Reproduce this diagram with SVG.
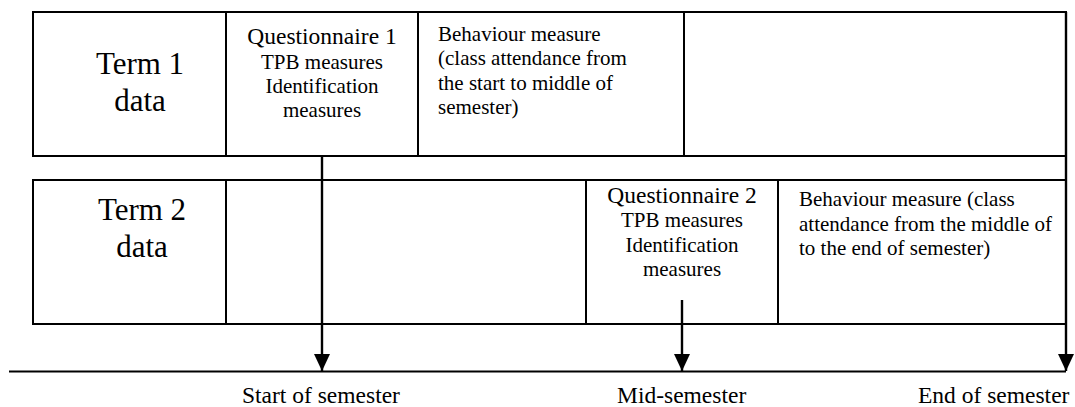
<svg xmlns="http://www.w3.org/2000/svg" width="1075" height="407" viewBox="0 0 1075 407">
<style>
.box{fill:none;stroke:#000;stroke-width:2}
.ln{stroke:#000;stroke-width:2;fill:none}
.arr{stroke:#000;stroke-width:2.4;fill:none}
text{font-family:"Liberation Serif","Times New Roman",serif;fill:#000}
.big{font-size:31px;text-anchor:middle}
.q{font-size:23.5px;text-anchor:middle}
.qs{font-size:21px;text-anchor:middle}
.b{font-size:21px}
.lab{font-size:23.5px}
</style>
<defs>
<marker id="ah" markerWidth="17" markerHeight="16" refX="17" refY="8" orient="auto" markerUnits="userSpaceOnUse" viewBox="0 0 17 16">
<path d="M0,0 L17,8 L0,16 Z" fill="#000"/>
</marker>
</defs>
<rect width="1075" height="407" fill="#fff"/>
<g id="term1">
<rect class="box" x="33" y="12" width="1033" height="144"/>
<line class="ln" x1="226" y1="12" x2="226" y2="156"/>
<line class="ln" x1="418" y1="12" x2="418" y2="156"/>
<line class="ln" x1="684" y1="12" x2="684" y2="156"/>
<text class="big" x="140" y="74">Term 1</text>
<text class="big" x="140" y="111">data</text>
</g>
<g id="questionnaire1">
<text class="q" x="322" y="44">Questionnaire 1</text>
<text class="qs" x="322" y="69">TPB measures</text>
<text class="qs" x="322" y="93">Identification</text>
<text class="qs" x="322" y="117">measures</text>
</g>
<g id="behaviour1">
<text class="b" x="438" y="41">Behaviour measure</text>
<text class="b" x="438" y="65">(class attendance from</text>
<text class="b" x="438" y="90">the start to middle of</text>
<text class="b" x="438" y="114">semester)</text>
</g>
<g id="term2">
<rect class="box" x="33" y="180" width="1033" height="144"/>
<line class="ln" x1="226" y1="180" x2="226" y2="324"/>
<line class="ln" x1="586" y1="180" x2="586" y2="324"/>
<line class="ln" x1="778" y1="180" x2="778" y2="324"/>
<text class="big" x="142" y="220">Term 2</text>
<text class="big" x="142" y="257">data</text>
</g>
<g id="questionnaire2">
<text class="q" x="682" y="203">Questionnaire 2</text>
<text class="qs" x="682" y="227">TPB measures</text>
<text class="qs" x="682" y="252">Identification</text>
<text class="qs" x="682" y="276">measures</text>
</g>
<g id="behaviour2">
<text class="b" x="799" y="206">Behaviour measure (class</text>
<text class="b" x="799" y="231">attendance from the middle of</text>
<text class="b" x="799" y="255">to the end of semester)</text>
</g>
<g id="timeline">
<line class="ln" x1="9" y1="371.5" x2="1066" y2="371.5"/>
<text class="lab" x="242" y="403">Start of semester</text>
<text class="lab" x="617" y="403">Mid-semester</text>
<text class="lab" x="918" y="403">End of semester</text>
</g>
<g id="connectors">
<line class="arr" x1="322" y1="156" x2="322" y2="371" marker-end="url(#ah)"/>
<line class="arr" x1="682" y1="300" x2="682" y2="371" marker-end="url(#ah)"/>
<line class="arr" x1="1066" y1="12" x2="1066" y2="371" marker-end="url(#ah)"/>
</g>
</svg>
